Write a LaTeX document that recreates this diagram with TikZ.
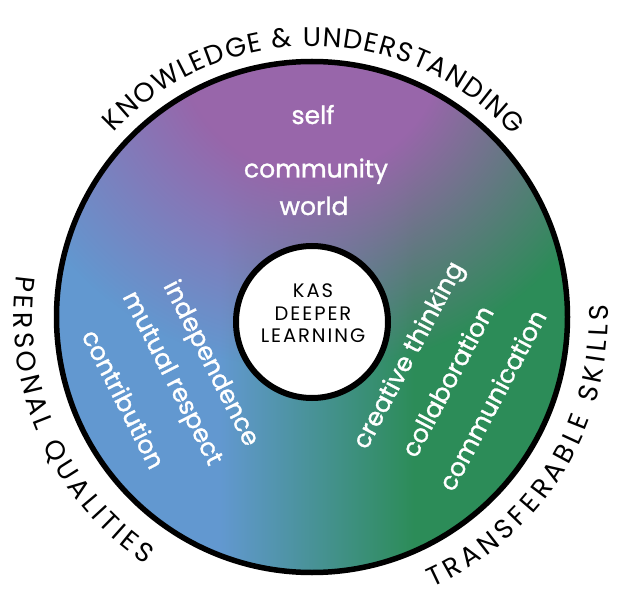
\documentclass[tikz,border=0pt]{standalone}
\usepackage{fontspec}
\setmainfont{Poppins}
\newfontfamily\whitefont{Poppins}[FakeBold=1.2]
\newfontfamily\corefont{Poppins}[LetterSpace=10]
\usetikzlibrary{decorations.text,fadings}

\definecolor{kpurple}{RGB}{152,102,170}
\definecolor{kblue}{RGB}{98,152,208}
\definecolor{kgreen}{RGB}{44,140,88}

\pgfdeclarehorizontalshading{kasbg}{100bp}{color(0bp)=(kblue); color(41bp)=(kblue); color(60bp)=(kgreen); color(100bp)=(kgreen)}
\pgfdeclareradialshading{kasfadeshade}{\pgfpointorigin}{color(0bp)=(white); color(10bp)=(white); color(25bp)=(black); color(50bp)=(black)}
\pgfdeclarefading{kasfade}{\pgfuseshading{kasfadeshade}}

\begin{document}
\begin{tikzpicture}[x=1pt,y=1pt,
  whitelabel/.style={text=white, font=\whitefont\fontsize{25}{30}\selectfont, inner sep=0pt},
  corelabel/.style={text=black, font=\corefont\fontsize{19.5}{22.5}\selectfont, align=center, inner sep=0pt},
  ringtext/.style={decorate, decoration={text along path, text align=fit to path, text={|\fontsize{27}{30}\selectfont|#1}}}
]
\useasboundingbox (0,0) rectangle (622,-599);
\coordinate (C) at (312,-317);
\coordinate (P) at (312,-40);

% base ring with horizontal blue-green shading
\path[shading=kasbg] (C) circle (255.5);
% purple overlay from the top
\begin{scope}
  \clip (C) circle (255.5);
  \fill[kpurple, path fading=kasfade] (P) circle (330);
\end{scope}
\draw[line width=5.5pt] (C) circle (255.5);

% centre
\node (core) [circle, draw, line width=6pt, fill=white, minimum size=152pt, inner sep=0pt] at (312,-322) {};
\node (kas) [corelabel] at (313,-313.5) {KAS\\DEEPER\\LEARNING};

% white labels
\node (self) [whitelabel, anchor=base] at (313,-124) {self};
\node (community) [whitelabel, anchor=base] at (316,-177.5) {community};
\node (world) [whitelabel, anchor=base] at (314,-215) {world};

\node (indep) [whitelabel, rotate=-63] at (210,-364) {independence};
\node (mutual) [whitelabel, rotate=-63] at (171,-379) {mutual respect};
\node (contrib) [whitelabel, rotate=-63] at (124,-399) {contribution};

\node (creative) [whitelabel, rotate=62] at (410,-356) {creative thinking};
\node (collab) [whitelabel, rotate=62] at (447,-381) {collaboration};
\node (commun) [whitelabel, rotate=62] at (492,-400) {communication};

% curved outer labels
\begin{scope}[shift={(C)}]
  \path[ringtext={KNOWLEDGE {\&} UNDERSTANDING}] (137:271) arc[start angle=137, end angle=42, radius=271];
  \path[ringtext={PERSONAL QUALITIES}] (172:298) arc[start angle=172, end angle=236, radius=298];
  \path[ringtext={TRANSFERABLE SKILLS}] (-66:296) arc[start angle=-66, end angle=2.3, radius=296];
\end{scope}
\end{tikzpicture}
\end{document}
